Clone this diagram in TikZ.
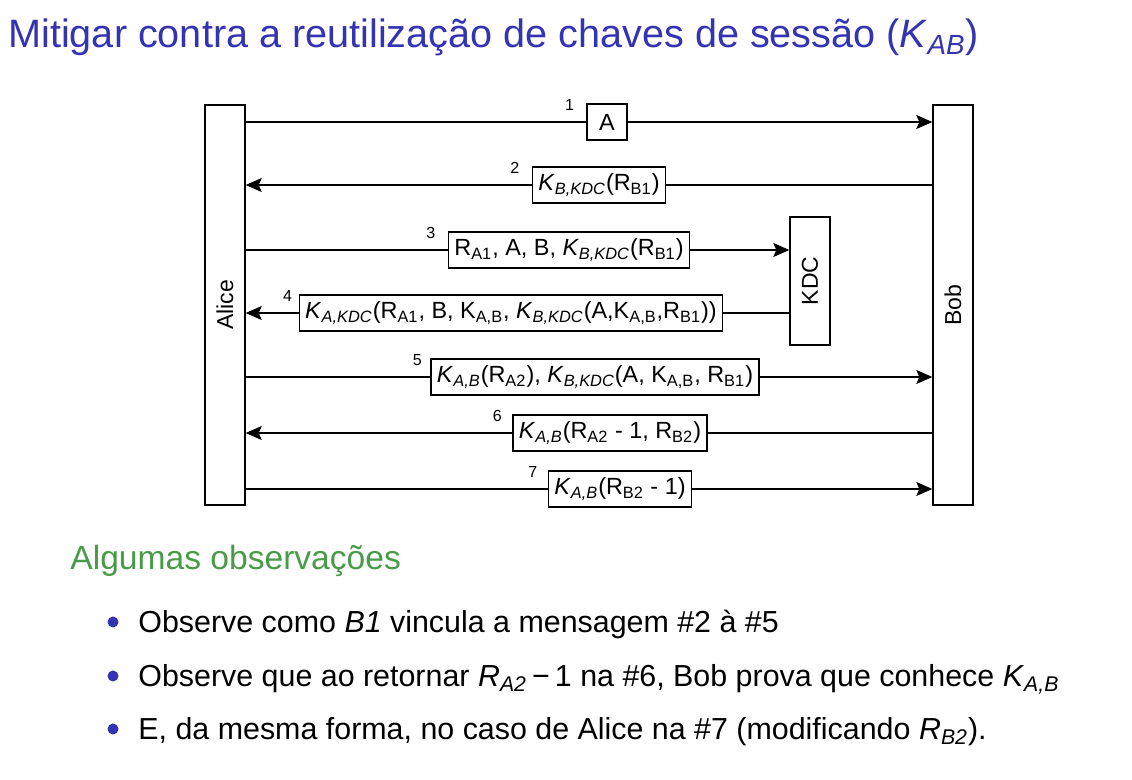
\documentclass[tikz,border=0pt]{standalone}
\usepackage{fontspec}
\setmainfont{Liberation Sans}
\usetikzlibrary{positioning, arrows.meta}
\definecolor{titleblue}{RGB}{51,51,179}
\definecolor{obsgreen}{RGB}{72,155,72}
\newcommand{\Kk}[1]{\textit{K}\textsubscript{\textit{#1}}}
\newcommand{\Rr}[1]{R\textsubscript{#1}}

\begin{document}
\begin{tikzpicture}[x=0.5pt, y=-0.5pt,
  party/.style={draw, line width=0.7pt, minimum width=20pt, font=\fontsize{11.5}{13}\selectfont},
  msg/.style={draw, fill=white, line width=0.7pt, minimum height=18pt, minimum width=20pt, inner xsep=3pt, font=\fontsize{11.7}{13}\selectfont},
  num/.style={font=\fontsize{8}{9}\selectfont, inner sep=1pt},
  flow/.style={line width=0.7pt, -{Stealth[length=8pt, width=7pt, inset=1.5pt]}},
  bul/.style={circle, fill=titleblue, inner sep=0pt, minimum size=5.5pt},
  obstext/.style={anchor=base west, inner sep=0pt, font=\fontsize{15.2}{18}\selectfont}
]
\useasboundingbox (0,0) rectangle (1132,780);

% title
\node[anchor=base west, inner sep=0pt, text=titleblue, font=\fontsize{19.8}{24}\selectfont] (title) at (8,48) {Mitigar contra a reutilização de chaves de sessão (\textit{K}\textsubscript{\textit{AB}})};

% parties
\node[party, minimum height=200pt] (alice) at (225,305) {\rotatebox{90}{Alice}};
\node[party, minimum height=200pt] (bob) at (953,305) {\rotatebox{90}{Bob}};
\node[party, minimum height=64pt] (kdc) at (810,281) {\rotatebox{90}{KDC}};

% messages
\node[msg] (m1) at (607,122) {A};
\node[msg] (m2) at (599,185) {\Kk{B,KDC}(\Rr{B1})};
\node[msg] (m3) at (569,250) {\Rr{A1}, A, B, \Kk{B,KDC}(\Rr{B1})};
\node[msg] (m4) at (511,313) {\Kk{A,KDC}(\Rr{A1}, B, K\textsubscript{A,B}, \Kk{B,KDC}(A,K\textsubscript{A,B},\Rr{B1}))};
\node[msg] (m5) at (595,377) {\Kk{A,B}(\Rr{A2}), \Kk{B,KDC}(A, K\textsubscript{A,B}, \Rr{B1})};
\node[msg] (m6) at (610,433) {\Kk{A,B}(\Rr{A2} - 1, \Rr{B2})};
\node[msg] (m7) at (620,489) {\Kk{A,B}(\Rr{B2} - 1)};

\node[num, left=5pt of m1.north west, yshift=-1pt] (n1) {1};
\node[num, left=5pt of m2.north west, yshift=-1pt] (n2) {2};
\node[num, left=5pt of m3.north west, yshift=-1pt] (n3) {3};
\node[num, left=2pt of m4.north west, yshift=-1pt] (n4) {4};
\node[num, left=3pt of m5.north west, yshift=-1pt] (n5) {5};
\node[num, left=4pt of m6.north west, yshift=-1pt] (n6) {6};
\node[num, left=4pt of m7.north west, yshift=-1pt] (n7) {7};

\draw[line width=0.7pt] (alice.east |- m1) -- (m1.west);
\draw[flow] (m1.east) -- (bob.west |- m1);
\draw[line width=0.7pt] (bob.west |- m2) -- (m2.east);
\draw[flow] (m2.west) -- (alice.east |- m2);
\draw[line width=0.7pt] (alice.east |- m3) -- (m3.west);
\draw[flow] (m3.east) -- (kdc.west |- m3);
\draw[line width=0.7pt] (kdc.west |- m4) -- (m4.east);
\draw[flow] (m4.west) -- (alice.east |- m4);
\draw[line width=0.7pt] (alice.east |- m5) -- (m5.west);
\draw[flow] (m5.east) -- (bob.west |- m5);
\draw[line width=0.7pt] (bob.west |- m6) -- (m6.east);
\draw[flow] (m6.west) -- (alice.east |- m6);
\draw[line width=0.7pt] (alice.east |- m7) -- (m7.west);
\draw[flow] (m7.east) -- (bob.west |- m7);

% observations
\node[anchor=base west, inner sep=0pt, text=obsgreen, font=\fontsize{16.8}{20}\selectfont] (obs) at (70,570) {Algumas observações};
\node[bul] (d1) at (113,622) {};
\node[bul] (d2) at (113,676) {};
\node[bul] (d3) at (113,729) {};
\node[obstext] (b1) at (138,633) {Observe como \textit{B1} vincula a mensagem \#2 à \#5};
\node[obstext] (b2) at (138,687) {Observe que ao retornar \textit{R}\textsubscript{\textit{A2}}\,−\,1 na \#6, Bob prova que conhece \textit{K}\textsubscript{\textit{A,B}}};
\node[obstext] (b3) at (138,740) {E, da mesma forma, no caso de Alice na \#7 (modificando \textit{R}\textsubscript{\textit{B2}}).};

\end{tikzpicture}
\end{document}
